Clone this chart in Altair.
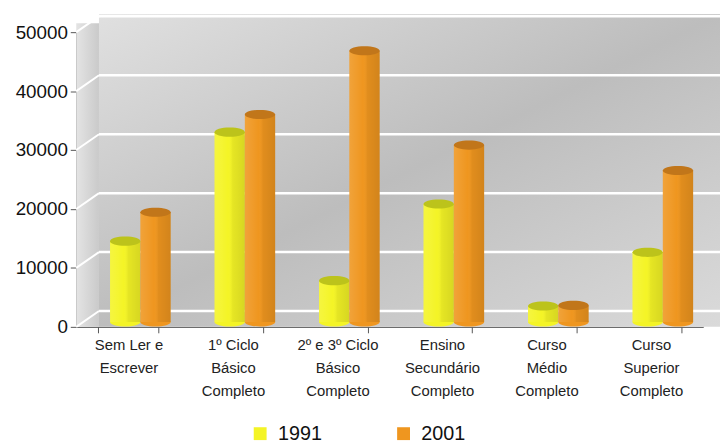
import altair as alt
import pandas as pd

categories = [
    "Sem Ler e\nEscrever",
    "1º Ciclo\nBásico\nCompleto",
    "2º e 3º Ciclo\nBásico\nCompleto",
    "Ensino\nSecundário\nCompleto",
    "Curso\nMédio\nCompleto",
    "Curso\nSuperior\nCompleto",
]
years = ["1991", "2001"]
values_1991 = [13700, 32200, 7000, 20000, 2700, 11800]
values_2001 = [18600, 35200, 46000, 30000, 2800, 25700]
y_ticks = [0, 10000, 20000, 30000, 40000, 50000]

bar_colors = ["#f4f426", "#ef961f"]
top_colors = ["#bcc31b", "#c1761a"]

rows = []
for c, a, b in zip(categories, values_1991, values_2001):
    rows.append({"cat": c, "year": years[0], "value": a, "zero": 0})
    rows.append({"cat": c, "year": years[1], "value": b, "zero": 0})
df = pd.DataFrame(rows)
grid_df = pd.DataFrame({"g": y_ticks})
one = pd.DataFrame({"a": [0]})

W, H = 634, 298
FONT = "Liberation Sans"

x_enc = alt.X(
    "cat:N", sort=categories,
    scale=alt.Scale(paddingInner=0.42, paddingOuter=0.21),
    axis=alt.Axis(title=None, labelAngle=0, tickBand="extent", labelFontSize=15,
                  labelLineHeight=23, labelExpr="split(datum.label, '\\n')",
                  labelColor="#222", labelFont=FONT, domainColor="#555",
                  tickColor="#555", tickSize=6, labelPadding=5, labelBaseline="top"),
)
xo_enc = alt.XOffset("year:N", sort=years, scale=alt.Scale(range=[12, 73.3]))
y_scale = alt.Scale(domain=[0, 50000], nice=False)
y_axis = alt.Axis(title=None, values=y_ticks, grid=False, format="d",
                  labelFontSize=19, labelColor="#111", labelFont=FONT,
                  domainColor="#555", tickColor="#555", tickSize=6,
                  labelPadding=3)

bg = alt.Chart(one).mark_rect(
    color=alt.Gradient(gradient="linear", x1=0, y1=0, x2=1, y2=1,
                       stops=[alt.GradientStop(offset=0, color="#e0e0e0"),
                              alt.GradientStop(offset=0.5, color="#bdbdbd"),
                              alt.GradientStop(offset=1, color="#dadada")])
).encode(x=alt.value(23), x2=alt.value(651), y=alt.value(-18), y2=alt.value(H))

side = alt.Chart(one).mark_rect(
    color=alt.Gradient(gradient="linear", x1=0, y1=0, x2=1, y2=0,
                       stops=[alt.GradientStop(offset=0, color="#e4e4e4"),
                              alt.GradientStop(offset=1, color="#cacaca")])
).encode(x=alt.value(0), x2=alt.value(23), y=alt.value(-9), y2=alt.value(H))

grid = alt.Chart(grid_df).mark_rule(color="white", strokeWidth=2.5, yOffset=-16).encode(
    x=alt.value(23), x2=alt.value(651),
    y=alt.Y("g:Q", scale=y_scale, axis=y_axis),
)
grid_side = alt.Chart(grid_df).mark_rule(color="white", strokeWidth=2, y2Offset=-16).encode(
    x=alt.value(0), x2=alt.value(23),
    y=alt.Y("g:Q", scale=y_scale, axis=y_axis), y2="g:Q",
)

ellipse = "M -1 0 A 1 0.3 0 1 1 1 0 A 1 0.3 0 1 1 -1 0 Z"

bottoms = alt.Chart(df).mark_point(shape=ellipse, filled=True, opacity=1, size=940, yOffset=-5).encode(
    x=x_enc, xOffset=xo_enc,
    y=alt.Y("zero:Q", scale=y_scale, axis=y_axis),
    color=alt.Color("year:N", scale=alt.Scale(domain=years, range=bar_colors), legend=None),
)

bars = alt.Chart(df).mark_bar(yOffset=-5, y2Offset=-5).encode(
    x=x_enc, xOffset=xo_enc,
    y=alt.Y("value:Q", scale=y_scale, axis=y_axis),
    color=alt.Color("year:N", scale=alt.Scale(domain=years, range=bar_colors),
                    legend=alt.Legend(title=None, orient="none", direction="horizontal",
                                      legendX=176, legendY=396, symbolType="square",
                                      symbolSize=169, symbolStrokeWidth=0,
                                      labelFontSize=20, labelFont=FONT, labelColor="#111",
                                      labelOffset=8, columnPadding=72, padding=0)),
)

shade = alt.Chart(df).mark_bar(
    yOffset=-5, y2Offset=-5,
    color=alt.Gradient(gradient="linear", x1=0, y1=0, x2=1, y2=0,
                       stops=[alt.GradientStop(offset=0, color="rgba(255,255,255,0.12)"),
                              alt.GradientStop(offset=0.45, color="rgba(255,255,255,0)"),
                              alt.GradientStop(offset=0.6, color="rgba(0,0,0,0.06)"),
                              alt.GradientStop(offset=1, color="rgba(0,0,0,0.12)")])
).encode(x=x_enc, xOffset=xo_enc, y=alt.Y("value:Q", scale=y_scale, axis=y_axis))

tops = alt.Chart(df).mark_point(shape=ellipse, filled=True, opacity=1, size=940, yOffset=-5).encode(
    x=x_enc, xOffset=xo_enc,
    y=alt.Y("value:Q", scale=y_scale, axis=y_axis),
    color=alt.Color("year:N", scale=alt.Scale(domain=years, range=top_colors), legend=None),
)

chart = alt.layer(bg, side, grid, grid_side, bottoms, bars, shade, tops).resolve_scale(
    color="independent"
).properties(
    width=W, height=H,
    autosize=alt.AutoSizeParams(type="none"),
    padding={"left": 69, "top": 22, "right": 17, "bottom": 115},
).configure_view(stroke=None).configure(background="white")

chart.save("out.html", embed_options={"renderer": "svg", "actions": False})
